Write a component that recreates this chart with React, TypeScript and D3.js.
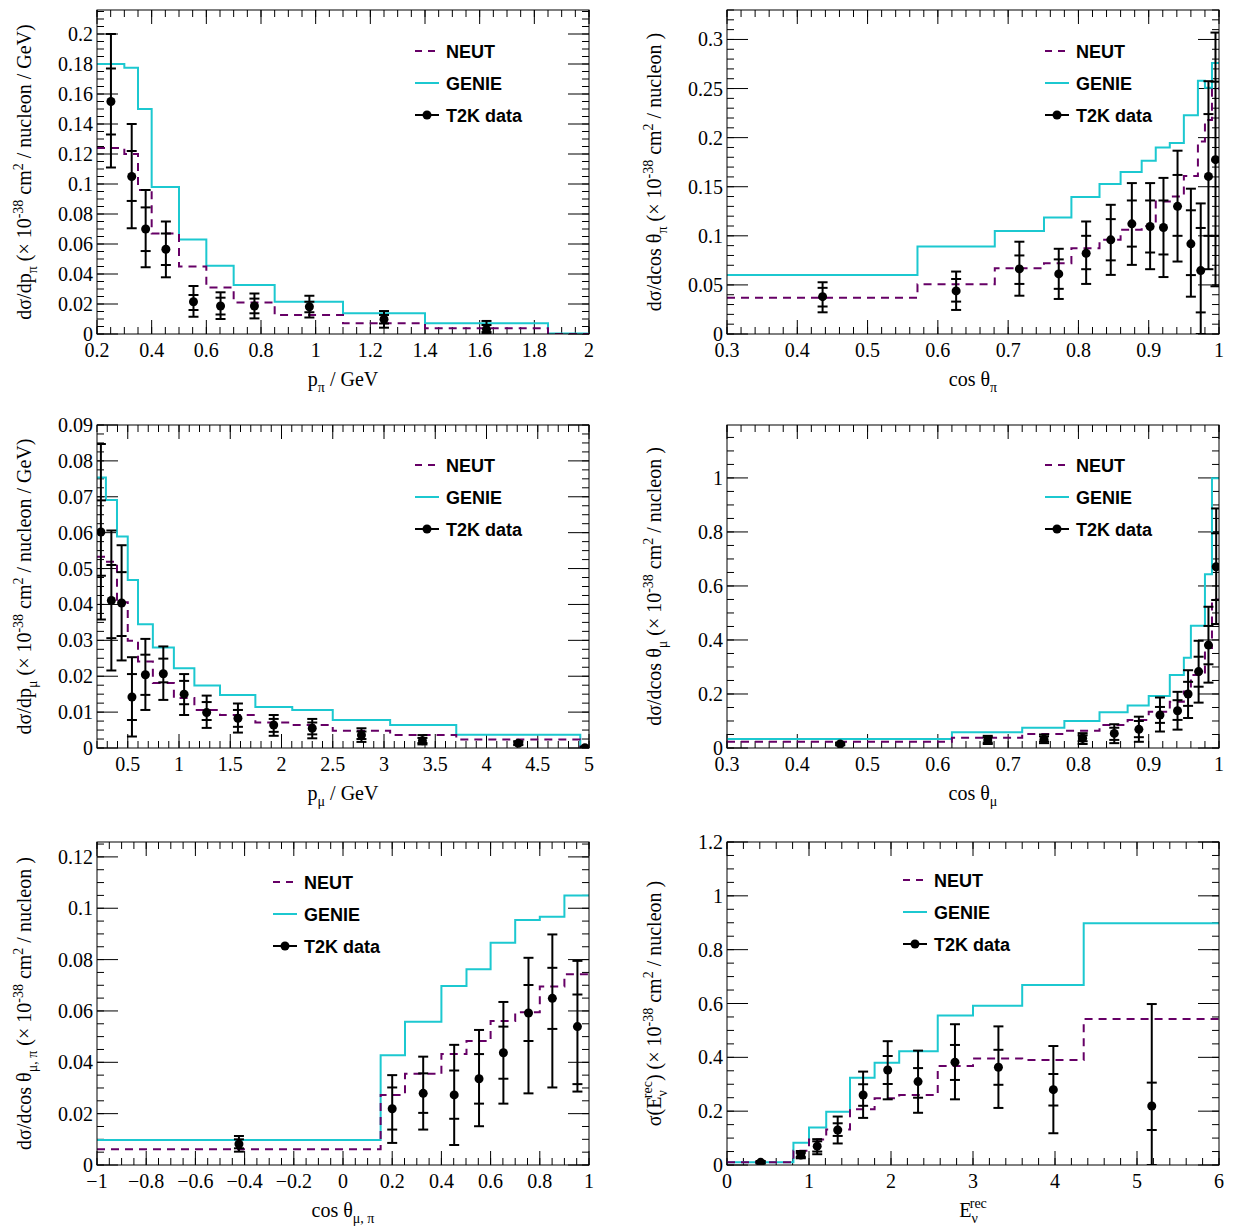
import * as d3 from 'd3';
import React from 'react';

// bin edges and model predictions (step histograms)
const ppiEdges = [0.2, 0.3, 0.35, 0.4, 0.5, 0.6, 0.7, 0.85, 1.1, 1.4, 1.85, 2.0];
const ppiGenie = [0.18, 0.1775, 0.15, 0.098, 0.063, 0.0455, 0.0327, 0.0215, 0.0138, 0.0071, 0.0004];
const ppiNeut = [0.124, 0.12, 0.096, 0.067, 0.045, 0.031, 0.021, 0.0127, 0.0071, 0.0038, 0];
// data rows: [x, y, outerLo, outerHi, innerLo, innerHi]
const ppiData = [
  [0.251, 0.155, 0.111, 0.2, 0.133, 0.177],
  [0.327, 0.105, 0.0705, 0.14, 0.0887, 0.122],
  [0.378, 0.07, 0.0445, 0.096, 0.0553, 0.0844],
  [0.452, 0.0565, 0.0378, 0.075, 0.046, 0.067],
  [0.553, 0.0215, 0.0115, 0.032, 0.016, 0.026],
  [0.652, 0.0187, 0.01, 0.0278, 0.013, 0.0242],
  [0.776, 0.0187, 0.0104, 0.027, 0.0138, 0.0236],
  [0.977, 0.0182, 0.011, 0.0255, 0.0145, 0.0215],
  [1.25, 0.0098, 0.0042, 0.0153, 0.007, 0.0127],
  [1.625, 0.0031, 0, 0.0087, 0.0013, 0.006],
];

const cpiEdges = [0.3, 0.571, 0.681, 0.751, 0.79, 0.83, 0.86, 0.89, 0.91, 0.93, 0.95, 0.97, 0.98, 0.99, 1.0];
const cpiGenie = [0.0602, 0.089, 0.105, 0.1187, 0.1395, 0.1527, 0.165, 0.1765, 0.19, 0.1946, 0.2228, 0.258, 0.2507, 0.276];
const cpiNeut = [0.037, 0.0507, 0.067, 0.072, 0.0874, 0.0959, 0.1061, 0.11, 0.135, 0.14, 0.161, 0.196, 0.218, 0.25];
const cpiData = [
  [0.436, 0.038, 0.0221, 0.0527, 0.028, 0.047],
  [0.626, 0.0439, 0.0245, 0.0636, 0.033, 0.056],
  [0.716, 0.0663, 0.039, 0.094, 0.051, 0.08],
  [0.772, 0.0612, 0.0357, 0.0868, 0.046, 0.076],
  [0.811, 0.0823, 0.051, 0.1146, 0.066, 0.1],
  [0.846, 0.0959, 0.0602, 0.1316, 0.075, 0.117],
  [0.876, 0.1122, 0.0704, 0.1537, 0.089, 0.136],
  [0.902, 0.1095, 0.066, 0.1537, 0.083, 0.136],
  [0.921, 0.1085, 0.058, 0.159, 0.081, 0.136],
  [0.941, 0.13, 0.0738, 0.1867, 0.1, 0.162],
  [0.96, 0.0918, 0.038, 0.148, 0.06, 0.126],
  [0.974, 0.0646, 0, 0.133, 0.022, 0.108],
  [0.985, 0.1605, 0.066, 0.2575, 0.1, 0.224],
  [0.995, 0.1776, 0.0486, 0.307, 0.1, 0.257],
];

const pmuEdges = [0.2, 0.287, 0.395, 0.5, 0.6, 0.745, 0.95, 1.15, 1.4, 1.745, 2.105, 2.5, 3.06, 3.705, 4.915, 5.0];
const pmuGenie = [0.0754, 0.0691, 0.0589, 0.0468, 0.0345, 0.028, 0.0222, 0.0174, 0.0148, 0.0114, 0.0106, 0.0078, 0.0064, 0.0037, 0];
const pmuNeut = [0.0533, 0.0519, 0.0406, 0.0299, 0.0241, 0.0181, 0.0139, 0.0106, 0.0092, 0.0071, 0.0064, 0.0048, 0.0036, 0.0024, 0];
const pmuData = [
  [0.238, 0.0602, 0.0358, 0.0847, 0.048, 0.069],
  [0.34, 0.0411, 0.0216, 0.0606, 0.0306, 0.051],
  [0.44, 0.0404, 0.0244, 0.0565, 0.0312, 0.049],
  [0.541, 0.0142, 0.0032, 0.0253, 0.0078, 0.0206],
  [0.672, 0.0204, 0.0106, 0.0304, 0.0148, 0.026],
  [0.847, 0.0207, 0.0134, 0.0283, 0.0183, 0.0249],
  [1.05, 0.015, 0.0092, 0.0206, 0.0122, 0.0187],
  [1.27, 0.0099, 0.0056, 0.0146, 0.0078, 0.0128],
  [1.575, 0.0083, 0.0043, 0.0124, 0.0059, 0.0106],
  [1.924, 0.0064, 0.0034, 0.0092, 0.0045, 0.0081],
  [2.3, 0.0055, 0.0027, 0.0081, 0.0038, 0.0071],
  [2.78, 0.0036, 0.0017, 0.0055, 0.0025, 0.0046],
  [3.375, 0.002, 0.001, 0.0036, 0.0014, 0.0028],
  [4.31, 0.0013, 0.0008, 0.0019, 0.001, 0.0016],
  [4.96, 0.0001, 0, 0.0003, 0, 0.0002],
];

const cmuEdges = [0.3, 0.62, 0.72, 0.78, 0.83, 0.87, 0.9, 0.93, 0.95, 0.96, 0.98, 0.99, 1.0];
const cmuGenie = [0.0333, 0.058, 0.075, 0.1, 0.132, 0.157, 0.193, 0.27, 0.334, 0.453, 0.643, 0.999];
const cmuNeut = [0.0235, 0.038, 0.052, 0.064, 0.085, 0.104, 0.134, 0.171, 0.209, 0.27, 0.37, 0.55];
const cmuData = [
  [0.461, 0.015, 0.01, 0.02, 0.012, 0.018],
  [0.671, 0.0296, 0.0148, 0.045, 0.02, 0.04],
  [0.751, 0.032, 0.018, 0.05, 0.024, 0.043],
  [0.806, 0.036, 0.0148, 0.055, 0.025, 0.047],
  [0.851, 0.054, 0.018, 0.088, 0.03, 0.075],
  [0.886, 0.069, 0.023, 0.116, 0.04, 0.1],
  [0.916, 0.122, 0.061, 0.187, 0.093, 0.152],
  [0.941, 0.138, 0.068, 0.208, 0.104, 0.177],
  [0.956, 0.2, 0.111, 0.288, 0.156, 0.245],
  [0.971, 0.283, 0.168, 0.397, 0.227, 0.338],
  [0.985, 0.381, 0.242, 0.523, 0.31, 0.452],
  [0.996, 0.671, 0.459, 0.887, 0.548, 0.795],
];

const cmupiEdges = [-1, 0.153, 0.252, 0.4, 0.502, 0.6, 0.7, 0.8, 0.9, 1.0];
const cmupiGenie = [0.0097, 0.0427, 0.0558, 0.0697, 0.0762, 0.0866, 0.0954, 0.0967, 0.105];
const cmupiNeut = [0.0061, 0.0273, 0.0355, 0.0432, 0.0483, 0.0561, 0.0595, 0.0695, 0.0743];
const cmupiData = [
  [-0.423, 0.0082, 0.0052, 0.0113, 0.0065, 0.01],
  [0.2, 0.0219, 0.0086, 0.035, 0.0138, 0.0302],
  [0.326, 0.0279, 0.0138, 0.0422, 0.0203, 0.0357],
  [0.452, 0.0273, 0.0078, 0.0468, 0.018, 0.0368],
  [0.553, 0.0336, 0.0151, 0.0526, 0.0239, 0.0432],
  [0.652, 0.0437, 0.0239, 0.0635, 0.0336, 0.0539],
  [0.754, 0.0592, 0.0279, 0.0807, 0.0483, 0.0701],
  [0.851, 0.0649, 0.0302, 0.0898, 0.053, 0.0768],
  [0.953, 0.0539, 0.0286, 0.0795, 0.0315, 0.0664],
];

const enuEdges = [0, 0.81, 1.0, 1.21, 1.5, 1.8, 2.1, 2.57, 3.0, 3.6, 4.35, 6.0];
const enuGenie = [0.01, 0.083, 0.139, 0.198, 0.324, 0.38, 0.423, 0.555, 0.592, 0.669, 0.898];
const enuNeut = [0.01, 0.053, 0.095, 0.132, 0.207, 0.248, 0.26, 0.368, 0.396, 0.39, 0.542];
const enuData = [
  [0.41, 0.01, 0.005, 0.015, 0.007, 0.013],
  [0.9, 0.037, 0.025, 0.052, 0.03, 0.045],
  [1.1, 0.07, 0.04, 0.096, 0.05, 0.088],
  [1.35, 0.13, 0.08, 0.18, 0.108, 0.155],
  [1.66, 0.26, 0.175, 0.347, 0.22, 0.3],
  [1.96, 0.353, 0.244, 0.46, 0.301, 0.405],
  [2.33, 0.31, 0.194, 0.425, 0.25, 0.36],
  [2.78, 0.382, 0.244, 0.523, 0.316, 0.446],
  [3.31, 0.363, 0.212, 0.515, 0.298, 0.428],
  [3.98, 0.28, 0.118, 0.442, 0.221, 0.338],
  [5.18, 0.219, 0, 0.598, 0.13, 0.306],
];

const GENIE = '#1cc8d0';
const NEUT = '#660066';
const SERIF = '"Liberation Serif", "Times New Roman", serif';
const SANS = '"Liberation Sans", Arial, sans-serif';

const fmt = (v: number) => {
  const s = String(+v.toFixed(4));
  return s.startsWith('-') ? '\u2212' + s.slice(1) : s;
};

type PanelProps = {
  left: number; top: number; w: number; h: number;
  xDom: [number, number]; yDom: [number, number];
  xMajor: number; xMinor: number; yMajor: number; yMinor: number;
  edges: number[]; genie: number[]; neut: number[]; pts: number[][];
  legX: number; legY: number;
  xTitle: React.ReactNode; yTitle: React.ReactNode;
};

const range = (a: number, b: number, s: number) => {
  const out: number[] = [];
  const n = Math.round((b - a) / s);
  for (let i = 0; i <= n; i++) out.push(+(a + i * s).toFixed(6));
  return out;
};

const Panel = (p: PanelProps) => {
  const x = d3.scaleLinear().domain(p.xDom).range([p.left, p.left + p.w]);
  const y = d3.scaleLinear().domain(p.yDom).range([p.top + p.h, p.top]);
  const step = d3.line<[number, number]>().x(d => x(d[0])).y(d => y(d[1])).curve(d3.curveStepAfter);
  const hist = (vals: number[]) => {
    const ptsArr: [number, number][] = vals.map((v, i) => [p.edges[i], v]);
    ptsArr.push([p.edges[p.edges.length - 1], vals[vals.length - 1]]);
    return step(ptsArr) || '';
  };
  const xStart = Math.ceil(p.xDom[0] / p.xMajor - 1e-6) * p.xMajor;
  const xMaj = range(xStart, p.xDom[1], p.xMajor).filter(v => v <= p.xDom[1] + 1e-9);
  const xMin = range(Math.ceil(p.xDom[0] / p.xMinor - 1e-6) * p.xMinor, p.xDom[1], p.xMinor).filter(v => v <= p.xDom[1] + 1e-9);
  const yMaj = range(0, p.yDom[1], p.yMajor).filter(v => v <= p.yDom[1] + 1e-9);
  const yMin = range(0, p.yDom[1], p.yMinor).filter(v => v <= p.yDom[1] + 1e-9);
  const bottom = p.top + p.h;
  const right = p.left + p.w;
  const clipId = `clip-${p.left}-${p.top}`;
  const ML = 14, ml = 7;
  return (
    <g>
      <defs>
        <clipPath id={clipId}><rect x={p.left} y={p.top} width={p.w} height={p.h} /></clipPath>
      </defs>
      <g stroke="#000" strokeWidth={1}>
        {xMin.map(v => (
          <g key={'xm' + v}>
            <line x1={x(v)} x2={x(v)} y1={bottom} y2={bottom - ml} />
            <line x1={x(v)} x2={x(v)} y1={p.top} y2={p.top + ml} />
          </g>
        ))}
        {xMaj.map(v => (
          <g key={'xM' + v}>
            <line x1={x(v)} x2={x(v)} y1={bottom} y2={bottom - ML} />
            <line x1={x(v)} x2={x(v)} y1={p.top} y2={p.top + ML} />
          </g>
        ))}
        {yMin.map(v => (
          <g key={'ym' + v}>
            <line x1={p.left} x2={p.left + ml} y1={y(v)} y2={y(v)} />
            <line x1={right} x2={right - ml} y1={y(v)} y2={y(v)} />
          </g>
        ))}
        {yMaj.map(v => (
          <g key={'yM' + v}>
            <line x1={p.left} x2={p.left + ML * 1.5} y1={y(v)} y2={y(v)} />
            <line x1={right} x2={right - ML * 1.5} y1={y(v)} y2={y(v)} />
          </g>
        ))}
      </g>
      <g fontFamily={SERIF} fontSize={20}>
        {xMaj.map(v => (
          <text key={'xl' + v} x={x(v)} y={bottom + 23} textAnchor="middle">{fmt(v)}</text>
        ))}
        {yMaj.map(v => (
          <text key={'yl' + v} x={p.left - 4} y={y(v) + 7} textAnchor="end">{fmt(v)}</text>
        ))}
        <text x={p.left + p.w / 2} y={bottom + 52} textAnchor="middle">{p.xTitle}</text>
        <text transform={`translate(${p.left - 66},${p.top + p.h / 2}) rotate(-90)`} textAnchor="middle">{p.yTitle}</text>
      </g>
      <g clipPath={`url(#${clipId})`}>
        <path d={hist(p.genie)} fill="none" stroke={GENIE} strokeWidth={2} />
        <path d={hist(p.neut)} fill="none" stroke={NEUT} strokeWidth={2} strokeDasharray="8,6" />
        <g stroke="#000" strokeWidth={2}>
          {p.pts.map((d, i) => (
            <g key={i}>
              <line x1={x(d[0])} x2={x(d[0])} y1={y(d[2])} y2={y(d[3])} />
              <line x1={x(d[0]) - 5} x2={x(d[0]) + 5} y1={y(d[2])} y2={y(d[2])} />
              <line x1={x(d[0]) - 5} x2={x(d[0]) + 5} y1={y(d[3])} y2={y(d[3])} />
              <line x1={x(d[0]) - 5} x2={x(d[0]) + 5} y1={y(d[4])} y2={y(d[4])} />
              <line x1={x(d[0]) - 5} x2={x(d[0]) + 5} y1={y(d[5])} y2={y(d[5])} />
              <circle cx={x(d[0])} cy={y(d[1])} r={4.5} fill="#000" stroke="none" />
            </g>
          ))}
        </g>
      </g>
      <rect x={p.left} y={p.top} width={p.w} height={p.h} fill="none" stroke="#000" strokeWidth={1} />
      <g fontFamily={SANS} fontSize={18} fontWeight="bold">
        <line x1={p.legX} x2={p.legX + 24} y1={p.legY} y2={p.legY} stroke={NEUT} strokeWidth={2} strokeDasharray="7,6" />
        <text x={p.legX + 31} y={p.legY + 7}>NEUT</text>
        <line x1={p.legX} x2={p.legX + 24} y1={p.legY + 32} y2={p.legY + 32} stroke={GENIE} strokeWidth={2} />
        <text x={p.legX + 31} y={p.legY + 39}>GENIE</text>
        <line x1={p.legX} x2={p.legX + 24} y1={p.legY + 64} y2={p.legY + 64} stroke="#000" strokeWidth={2} />
        <circle cx={p.legX + 12} cy={p.legY + 64} r={4.5} />
        <text x={p.legX + 31} y={p.legY + 71}>T2K data</text>
      </g>
    </g>
  );
};

const Sub = ({ t }: { t: string }) => <tspan fontSize={14} dy={6}>{t}</tspan>;
const Sup = ({ t }: { t: string }) => <tspan fontSize={14} dy={-8}>{t}</tspan>;
const R = ({ t, dy }: { t: string; dy: number }) => <tspan dy={dy}>{t}</tspan>;

const unitsTitle = (pre: React.ReactNode, tail: string) => (
  <>
    {pre}
    <R dy={-6} t=" (× 10" /><Sup t="-38" /><R dy={8} t=" cm" /><Sup t="2" /><R dy={8} t={tail} />
  </>
);

export default function App() {
  return (
    <svg width={1238} height={1226} style={{ position: 'absolute', left: 0, top: 0, background: '#fff' }}>
      <Panel left={97} top={10} w={492} h={324} xDom={[0.2, 2]} yDom={[0, 0.216]}
        xMajor={0.2} xMinor={0.05} yMajor={0.02} yMinor={0.005}
        edges={ppiEdges} genie={ppiGenie} neut={ppiNeut} pts={ppiData} legX={415} legY={51}
        xTitle={<>p<Sub t="π" /><R dy={-6} t=" / GeV" /></>}
        yTitle={unitsTitle(<>dσ/dp<Sub t="π" /></>, " / nucleon / GeV)")} />
      <Panel left={727} top={10} w={492} h={324} xDom={[0.3, 1]} yDom={[0, 0.33]}
        xMajor={0.1} xMinor={0.02} yMajor={0.05} yMinor={0.01}
        edges={cpiEdges} genie={cpiGenie} neut={cpiNeut} pts={cpiData} legX={1045} legY={51}
        xTitle={<>cos θ<Sub t="π" /></>}
        yTitle={unitsTitle(<>dσ/dcos θ<Sub t="π" /></>, " / nucleon )")} />
      <Panel left={97} top={425} w={492} h={323} xDom={[0.2, 5]} yDom={[0, 0.09]}
        xMajor={0.5} xMinor={0.1} yMajor={0.01} yMinor={0.0025}
        edges={pmuEdges} genie={pmuGenie} neut={pmuNeut} pts={pmuData} legX={415} legY={465}
        xTitle={<>p<Sub t="μ" /><R dy={-6} t=" / GeV" /></>}
        yTitle={unitsTitle(<>dσ/dp<Sub t="μ" /></>, " / nucleon / GeV)")} />
      <Panel left={727} top={425} w={492} h={323} xDom={[0.3, 1]} yDom={[0, 1.196]}
        xMajor={0.1} xMinor={0.02} yMajor={0.2} yMinor={0.05}
        edges={cmuEdges} genie={cmuGenie} neut={cmuNeut} pts={cmuData} legX={1045} legY={465}
        xTitle={<>cos θ<Sub t="μ" /></>}
        yTitle={unitsTitle(<>dσ/dcos θ<Sub t="μ" /></>, " / nucleon )")} />
      <Panel left={97} top={842} w={492} h={323} xDom={[-1, 1]} yDom={[0, 0.1258]}
        xMajor={0.2} xMinor={0.05} yMajor={0.02} yMinor={0.005}
        edges={cmupiEdges} genie={cmupiGenie} neut={cmupiNeut} pts={cmupiData} legX={273} legY={882}
        xTitle={<>cos θ<Sub t="μ, π" /></>}
        yTitle={unitsTitle(<>dσ/dcos θ<Sub t="μ, π" /></>, " / nucleon )")} />
      <Panel left={727} top={842} w={492} h={323} xDom={[0, 6]} yDom={[0, 1.2]}
        xMajor={1} xMinor={0.2} yMajor={0.2} yMinor={0.05}
        edges={enuEdges} genie={enuGenie} neut={enuNeut} pts={enuData} legX={903} legY={880}
        xTitle={<>E<tspan fontSize={14} dy={6}>ν</tspan><tspan fontSize={14} dx={-8} dy={-15}>rec</tspan></>}
        yTitle={<>σ(E<tspan fontSize={14} dy={6}>ν</tspan><tspan fontSize={14} dx={-8} dy={-15}>rec</tspan><R dy={9} t=")" /><R dy={0} t=" (× 10" /><Sup t="-38" /><R dy={8} t=" cm" /><Sup t="2" /><R dy={8} t=" / nucleon )" /></>} />
    </svg>
  );
}
